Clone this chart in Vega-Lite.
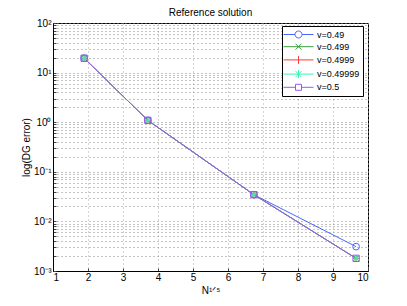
{
  "$schema": "https://vega.github.io/schema/vega-lite/v6.json",
  "autosize": "none",
  "width": 315,
  "height": 248,
  "padding": {"left": 53, "top": 23, "right": 39, "bottom": 35},
  "background": "white",
  "title": {"text": "Reference solution", "fontSize": 10, "fontWeight": "normal", "font": "Liberation Sans", "color": "black", "offset": 0},
  "config": {
    "view": {"stroke": "black", "strokeWidth": 1},
    "font": "Liberation Sans",
    "axis": {"labelFont": "Liberation Sans", "titleFont": "Liberation Sans", "labelFontSize": 10, "titleFontSize": 10, "titleFontWeight": "normal", "labelColor": "black", "titleColor": "black", "domainColor": "black", "grid": true, "gridColor": "#888888", "gridDash": [1, 3], "gridOpacity": 1, "ticks": true, "tickColor": "#444444", "tickSize": -3}
  },
  "data": {"values": [
    {"v": "v=0.49", "x": 1.89, "e": 19.5},
    {"v": "v=0.49", "x": 3.71, "e": 1.09},
    {"v": "v=0.49", "x": 6.74, "e": 0.0346},
    {"v": "v=0.49", "x": 9.66, "e": 0.0031},
    {"v": "v=0.499", "x": 1.89, "e": 19.5},
    {"v": "v=0.499", "x": 3.71, "e": 1.09},
    {"v": "v=0.499", "x": 6.74, "e": 0.0346},
    {"v": "v=0.499", "x": 9.66, "e": 0.0018},
    {"v": "v=0.4999", "x": 1.89, "e": 19.5},
    {"v": "v=0.4999", "x": 3.71, "e": 1.09},
    {"v": "v=0.4999", "x": 6.74, "e": 0.0346},
    {"v": "v=0.4999", "x": 9.66, "e": 0.0018},
    {"v": "v=0.49999", "x": 1.89, "e": 19.5},
    {"v": "v=0.49999", "x": 3.71, "e": 1.09},
    {"v": "v=0.49999", "x": 6.74, "e": 0.0346},
    {"v": "v=0.49999", "x": 9.66, "e": 0.0018},
    {"v": "v=0.5", "x": 1.89, "e": 19.5},
    {"v": "v=0.5", "x": 3.71, "e": 1.09},
    {"v": "v=0.5", "x": 6.74, "e": 0.0346},
    {"v": "v=0.5", "x": 9.66, "e": 0.0018}
  ]},
  "encoding": {
    "x": {"field": "x", "type": "quantitative", "scale": {"domain": [1, 10], "nice": false, "zero": false},
      "axis": {"values": [1, 2, 3, 4, 5, 6, 7, 8, 9, 10], "title": "N¹ᐟ⁵", "labelPadding": 4, "titlePadding": 3, "gridColor": "#aaaaaa"}},
    "y": {"field": "e", "type": "quantitative", "scale": {"type": "log", "domain": [0.001, 100], "nice": false},
      "axis": {"values": [0.001, 0.002, 0.003, 0.004, 0.005, 0.006, 0.007, 0.008, 0.009, 0.01, 0.02, 0.03, 0.04, 0.05, 0.06, 0.07, 0.08, 0.09, 0.1, 0.2, 0.3, 0.4, 0.5, 0.6, 0.7, 0.8, 0.9, 1, 2, 3, 4, 5, 6, 7, 8, 9, 10, 20, 30, 40, 50, 60, 70, 80, 90, 100],
        "labelExpr": "datum.value == 100 ? '10²' : datum.value == 10 ? '10¹' : datum.value == 1 ? '10⁰' : datum.value == 0.1 ? '10⁻¹' : datum.value == 0.01 ? '10⁻²' : datum.value == 0.001 ? '10⁻³' : ''",
        "title": "log(DG error)", "labelPadding": 5, "titlePadding": 2, "labelOverlap": false}},
    "color": {"field": "v", "type": "nominal",
      "scale": {"domain": ["v=0.49", "v=0.499", "v=0.4999", "v=0.49999", "v=0.5"], "range": ["#4a66ff", "#3a9a3a", "#ff3a3a", "#3df0b8", "#9a55f0"]},
      "legend": {"title": null, "orient": "none", "legendX": 229, "legendY": 3, "strokeColor": "black", "fillColor": "white", "padding": 3, "symbolSize": 100, "symbolOffset": 8, "labelOffset": 13, "rowPadding": 1.2, "labelFontSize": 9, "labelFont": "Liberation Sans", "labelColor": "black", "symbolStrokeWidth": 1,
        "encode": {"symbols": {"update": {
          "shape": {"signal": "datum.value == 'v=0.49' ? 'M-3,0L-0.7,0M0.7,0L3,0M-0.7,0A0.7,0.7 0 1,0 0.7,0A0.7,0.7 0 1,0 -0.7,0' : datum.value == 'v=0.499' ? 'M-3,0L3,0M-0.6,-0.6L0.6,0.6M-0.6,0.6L0.6,-0.6' : datum.value == 'v=0.4999' ? 'M-3,0L3,0M0,-0.8L0,0.8' : datum.value == 'v=0.49999' ? 'M-3,0L3,0M0,-0.8L0,0.8M-0.6,-0.6L0.6,0.6M-0.6,0.6L0.6,-0.6' : 'M-3,0L-0.6,0M0.6,0L3,0M-0.6,-0.6L0.6,-0.6L0.6,0.6L-0.6,0.6Z'"},
          "stroke": {"scale": "color", "field": "value"},
          "fill": {"value": "transparent"},
          "opacity": {"value": 1},
          "strokeOpacity": {"value": 1}
        }}}}
    }
  },
  "layer": [
    {"mark": {"type": "line", "strokeWidth": 1}},
    {"transform": [{"filter": "datum.v == 'v=0.49'"}],
      "mark": {"type": "point", "shape": "circle", "filled": false, "strokeWidth": 1, "size": 45, "opacity": 1}},
    {"transform": [{"filter": "datum.v == 'v=0.499'"}],
      "mark": {"type": "point", "shape": "M-1,-1L1,1M-1,1L1,-1", "filled": false, "strokeWidth": 1, "size": 25, "opacity": 1}},
    {"transform": [{"filter": "datum.v == 'v=0.4999'"}],
      "mark": {"type": "point", "shape": "M-1,0L1,0M0,-1L0,1", "filled": false, "strokeWidth": 1, "size": 40, "opacity": 1}},
    {"transform": [{"filter": "datum.v == 'v=0.49999'"}],
      "mark": {"type": "point", "shape": "M-1,0L1,0M0,-1L0,1M-0.7,-0.7L0.7,0.7M-0.7,0.7L0.7,-0.7", "filled": false, "strokeWidth": 1, "size": 25, "opacity": 1}},
    {"transform": [{"filter": "datum.v == 'v=0.5'"}],
      "mark": {"type": "point", "shape": "square", "filled": false, "strokeWidth": 1, "size": 40, "opacity": 1}}
  ]
}
